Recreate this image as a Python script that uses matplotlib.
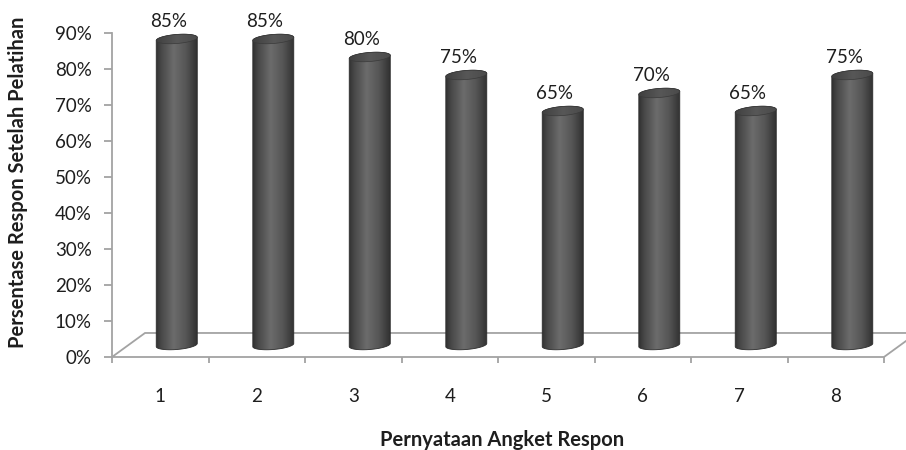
import numpy as np
import matplotlib
matplotlib.use("Agg")
import matplotlib.pyplot as plt
from matplotlib.path import Path
from matplotlib.patches import PathPatch, Polygon
from matplotlib.colors import LinearSegmentedColormap

# ---- data ----
categories = ["1", "2", "3", "4", "5", "6", "7", "8"]
values = [85, 85, 80, 75, 65, 70, 65, 75]
value_labels = ["85%", "85%", "80%", "75%", "65%", "70%", "65%", "75%"]
y_ticks = [0, 10, 20, 30, 40, 50, 60, 70, 80, 90]
y_tick_labels = ["0%", "10%", "20%", "30%", "40%", "50%", "60%", "70%", "80%", "90%"]
y_title = "Persentase Respon Setelah Pelatihan"
x_title = "Pernyataan Angket Respon"

plt.rcParams['font.family'] = ['Lato', 'DejaVu Sans']
TEXT = '#1e1e1e'
GRID = '#a3a3a3'

fig = plt.figure(figsize=(9.06, 4.5), dpi=100)
W, H = 906, 450
ax = fig.add_axes([112 / W, 93 / H, 772 / W, 324 / H])
n = len(categories)
ax.set_xlim(0, n)
ax.set_ylim(0, 90)

# floor depth offset (category units, percent units)
DX, DY = 0.342, 6.67
BAR_W = 0.425          # cylinder diameter in category units
ELL_B = 1.25           # half-height of end ellipses in percent units
SHEAR = 0.35           # slight tilt of the ellipses

body_cmap = LinearSegmentedColormap.from_list(
    "cyl", [(0.0, '#323232'), (0.12, '#474747'), (0.42, '#6c6c6c'),
            (0.72, '#555555'), (1.0, '#2e2e2e')])
top_cmap = LinearSegmentedColormap.from_list(
    "cyltop", [(0.0, '#404040'), (0.5, '#575757'), (1.0, '#4a4a4a')])


def ellipse_pts(xc, yc, t):
    hw = BAR_W / 2
    c = np.cos(t)
    return xc + hw * c, yc + ELL_B * np.sin(t) + SHEAR * ELL_B * c


def draw_cylinder(xc, y0, y1):
    hw = BAR_W / 2
    t_up = np.linspace(np.pi, 0, 80)
    t_lo = np.linspace(2 * np.pi, np.pi, 80)
    xt, yt = ellipse_pts(xc, y1, t_up)
    xb, yb = ellipse_pts(xc, y0, t_lo)
    xs = np.concatenate([xt, xb, [xt[0]]])
    ys = np.concatenate([yt, yb, [yt[0]]])
    verts = np.column_stack([xs, ys])
    codes = [Path.MOVETO] + [Path.LINETO] * (len(verts) - 2) + [Path.CLOSEPOLY]
    body = PathPatch(Path(verts, codes), facecolor='none', edgecolor='#2c2c2c',
                     lw=0.6, zorder=4)
    ax.add_patch(body)
    grad = np.linspace(0, 1, 256).reshape(1, -1)
    pad = ELL_B * (1 + SHEAR) + 0.5
    im = ax.imshow(grad, cmap=body_cmap, aspect='auto', interpolation='bicubic',
                   extent=[xc - hw, xc + hw, y0 - pad, y1 + pad], zorder=3)
    im.set_clip_path(body)

    tt = np.linspace(0, 2 * np.pi, 120)
    xe, ye = ellipse_pts(xc, y1, tt)
    top = Polygon(np.column_stack([xe, ye]), closed=True, facecolor='none',
                  edgecolor='#3a3a3a', lw=0.5, zorder=6)
    ax.add_patch(top)
    im2 = ax.imshow(grad, cmap=top_cmap, aspect='auto', interpolation='bicubic',
                    extent=[xc - hw, xc + hw, y1 - pad, y1 + pad], zorder=5)
    im2.set_clip_path(top)


# floor
floor = Polygon([(0, 0), (n, 0), (n + DX, DY), (DX, DY)], closed=True,
                facecolor='white', edgecolor=GRID, lw=1.3, clip_on=False, zorder=1)
ax.add_patch(floor)

for i, v in enumerate(values):
    xc = i + 0.5 + DX / 2
    draw_cylinder(xc, DY / 2, v + DY / 2)
    ax.annotate(value_labels[i], xy=(i + 0.5 + DX * 0.25, v + DY / 2),
                xytext=(0, 12.3), textcoords='offset points',
                ha='center', va='center', fontsize=13.5, color=TEXT,
                annotation_clip=False, zorder=7)

ax.set_xlim(0, n)
ax.set_ylim(0, 90)

for s in ['top', 'right', 'bottom']:
    ax.spines[s].set_visible(False)
ax.spines['left'].set_color(GRID)
ax.spines['left'].set_linewidth(1.3)
ax.patch.set_alpha(0)

ax.set_yticks(y_ticks, y_tick_labels)
ax.tick_params(axis='y', length=5.5, width=1.3, color=GRID, pad=9,
               labelsize=13.5, labelcolor=TEXT)

ax.set_xticks(np.arange(n + 1))
ax.set_xticklabels([])
ax.set_xticks(np.arange(n) + 0.5, categories, minor=True)
ax.tick_params(axis='x', which='major', length=4.3, width=1.3, color=GRID)
ax.tick_params(axis='x', which='minor', length=0, pad=22,
               labelsize=13.5, labelcolor=TEXT)

fig.text(18 / W, 1 - 182 / H, y_title, rotation=90, ha='center', va='center',
         fontsize=14.5, fontweight='bold', color=TEXT)
fig.text(502 / W, 1 - 440 / H, x_title, ha='center', va='center',
         fontsize=14.5, fontweight='bold', color=TEXT)

fig.savefig("out.png", dpi=100)
